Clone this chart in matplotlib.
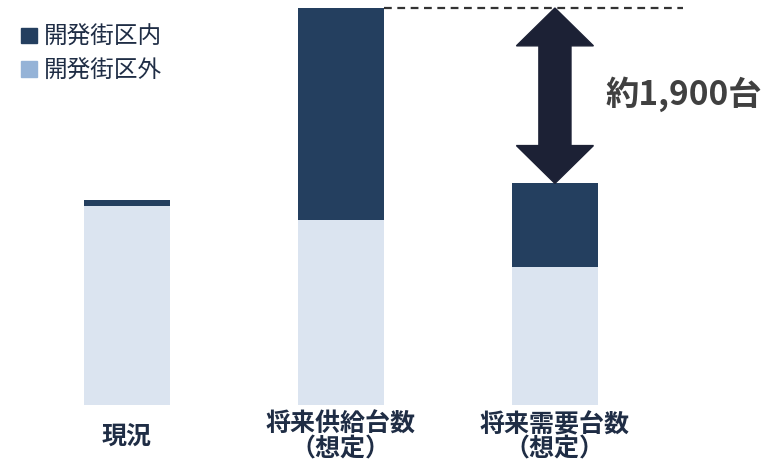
import numpy as np
import matplotlib.pyplot as plt
from matplotlib.patches import Patch, Polygon

plt.rcParams['font.family'] = ['Noto Sans CJK JP', 'DejaVu Sans']

# データ
categories = ["現況", "将来供給台数\n（想定）", "将来需要台数\n（想定）"]
outside = [2160, 2000, 1500]   # 開発街区外
inside = [60, 2300, 900]       # 開発街区内
gap_label = "約1,900台"

dark = "#243F5F"
light = "#DBE4F0"
legend_light = "#95B3D7"
text_col = "#1F2D45"

fig = plt.figure(figsize=(7.76, 4.62), dpi=100)
ax = fig.add_axes([0, 57/462, 1, 405/462])

x = np.arange(len(categories))
w = 0.4
ax.bar(x, outside, w, color=light)
ax.bar(x, inside, w, bottom=outside, color=dark)

tot = np.array(outside) + np.array(inside)
ax.set_xlim(-0.593, 3.033)
ax.set_ylim(0, tot[1] * 405 / 397)

# 点線
ax.plot([1 + w / 2, 2.598], [tot[1], tot[1]], ls=(0, (3.5, 2.5)), color="#333333", lw=1.6)

# 両矢印
top, bot = tot[1], tot[2]
hw, sw, hl = 0.18, 0.075, 410
pts = [(2, top), (2 + hw, top - hl), (2 + sw, top - hl), (2 + sw, bot + hl),
       (2 + hw, bot + hl), (2, bot), (2 - hw, bot + hl), (2 - sw, bot + hl),
       (2 - sw, top - hl), (2 - hw, top - hl)]
ax.add_patch(Polygon(pts, closed=True, color="#1C2135", zorder=3))

ax.text(2.235, (top + bot) / 2 + 20, gap_label, fontsize=24, fontweight="bold",
        color="#404040", va="center", ha="left")

ax.set_xticks(x)
ax.set_xticklabels(categories, fontsize=18, fontweight="bold", color=text_col,
                   linespacing=1.0)
for lbl in ax.get_xticklabels():
    lbl.set_va("center")
ax.tick_params(axis="x", length=0, pad=23)
ax.set_yticks([])
for s in ax.spines.values():
    s.set_visible(False)

handles = [Patch(color=dark, label="開発街区内"), Patch(color=legend_light, label="開発街区外")]
fig.legend(handles=handles, loc="upper left", bbox_to_anchor=(0.0, 0.99),
           frameon=False, fontsize=17, handlelength=0.65, handleheight=0.65,
           handletextpad=0.3, labelspacing=0.45, labelcolor=text_col)

fig.savefig("out.png", dpi=100)
